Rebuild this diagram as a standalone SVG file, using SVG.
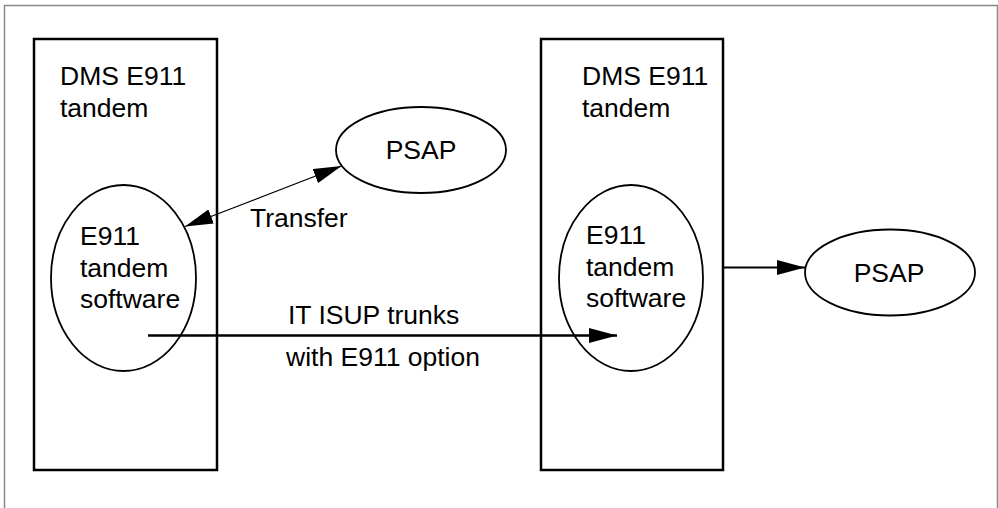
<svg xmlns="http://www.w3.org/2000/svg" width="998" height="508" viewBox="0 0 998 508">
<defs>
<marker id="ah" viewBox="0 0 28 15" refX="28" refY="7.5" markerWidth="28" markerHeight="15" markerUnits="userSpaceOnUse" orient="auto-start-reverse">
<path d="M0,0 L28,7.5 L0,15 Z" fill="#000"/>
</marker>
</defs>
<style>
.box{fill:none;stroke:#000;stroke-width:2.5}
.ell{fill:#fff;stroke:#000;stroke-width:1.8}
.t{font-family:"Liberation Sans",Arial,sans-serif;font-size:26.5px;fill:#000}
.c{fill:none;stroke:#000}
</style>
<rect width="998" height="508" fill="#fff"/>
<path d="M4.5,508 V5.5 H997.5 V508" fill="none" stroke="#888" stroke-width="1.5"/>
<g id="tandem1">
<rect class="box" x="34" y="39" width="183" height="431"/>
<text class="t" x="60" y="85">DMS E911</text>
<text class="t" x="60" y="117">tandem</text>
</g>
<g id="tandem2">
<rect class="box" x="541" y="39" width="182" height="431"/>
<text class="t" x="582" y="85">DMS E911</text>
<text class="t" x="582" y="117">tandem</text>
</g>
<g id="software1">
<ellipse class="ell" cx="123.5" cy="278" rx="72.5" ry="93"/>
<text class="t" x="80" y="245">E911</text>
<text class="t" x="80" y="277">tandem</text>
<text class="t" x="80" y="308">software</text>
</g>
<g id="software2">
<ellipse class="ell" cx="631" cy="278" rx="72" ry="93"/>
<text class="t" x="586" y="244">E911</text>
<text class="t" x="586" y="276">tandem</text>
<text class="t" x="586" y="307">software</text>
</g>
<g id="psap1">
<ellipse class="ell" cx="421" cy="150" rx="85" ry="43"/>
<text class="t" x="421" y="159" text-anchor="middle">PSAP</text>
</g>
<g id="psap2">
<ellipse class="ell" cx="890" cy="272.5" rx="85" ry="43"/>
<text class="t" x="889" y="282" text-anchor="middle">PSAP</text>
</g>
<g id="connectors">
<line class="c" x1="185" y1="226.5" x2="341.5" y2="166" stroke-width="1.2" marker-start="url(#ah)" marker-end="url(#ah)"/>
<text class="t" x="250" y="227">Transfer</text>
<line class="c" x1="148" y1="335.5" x2="617" y2="335.5" stroke-width="2.5" marker-end="url(#ah)"/>
<text class="t" x="288" y="324">IT ISUP trunks</text>
<text class="t" x="286" y="366">with E911 option</text>
<line class="c" x1="724" y1="267.5" x2="805" y2="267.5" stroke-width="1.8" marker-end="url(#ah)"/>
</g>
</svg>
